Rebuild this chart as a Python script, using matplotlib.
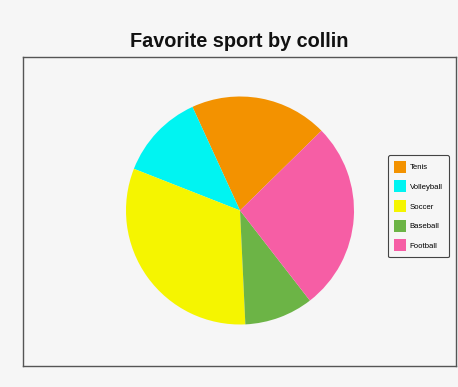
import matplotlib
matplotlib.use("Agg")
import matplotlib.pyplot as plt

categories = ["Tenis", "Volleyball", "Soccer", "Baseball", "Football"]
values = [8, 5, 13, 4, 11]
colors = ["#F39200", "#00F4F2", "#F5F500", "#6CB446", "#F65EA5"]
title = "Favorite sport by collin"

W, H = 458, 387
fig = plt.figure(figsize=(W / 100, H / 100), dpi=100)
bg = "#F6F6F6"
fig.patch.set_facecolor(bg)

ax_l, ax_r, ax_t, ax_b = 23.3, 455.7, 56.7, 366.0
ax = fig.add_axes([ax_l / W, (H - ax_b) / H, (ax_r - ax_l) / W, (ax_b - ax_t) / H])
ax.set_facecolor(bg)
aw, ah = ax_r - ax_l, ax_b - ax_t

wedges, _ = ax.pie(values, colors=colors, startangle=44.4, counterclock=True,
                   center=(240 - ax_l, ax_b - 210.5), radius=114, frame=True,
                   wedgeprops=dict(linewidth=0))
ax.set_aspect("auto")
ax.set_xlim(0, aw)
ax.set_ylim(0, ah)
ax.set_xticks([])
ax.set_yticks([])
for s in ax.spines.values():
    s.set_color("#555555")
    s.set_linewidth(1.0)

leg = ax.legend(wedges, categories, loc="upper right",
                bbox_to_anchor=((448.7 - ax_l) / aw, (ax_b - 155) / ah),
                borderaxespad=0, prop={"family": "Liberation Sans", "size": 5.6},
                handlelength=1.5, handleheight=2.0, labelspacing=0.98,
                handletextpad=0.5, borderpad=0.75, fancybox=True,
                framealpha=1, facecolor=bg, edgecolor="#444444")
leg.get_frame().set_linewidth(0.8)

fig.text(239 / W, (H - 46.7) / H, title, ha="center", va="baseline",
         fontfamily="Liberation Sans", fontweight="bold", fontsize=14.3, color="#111111")

fig.savefig("out.png", dpi=100, facecolor=bg)
